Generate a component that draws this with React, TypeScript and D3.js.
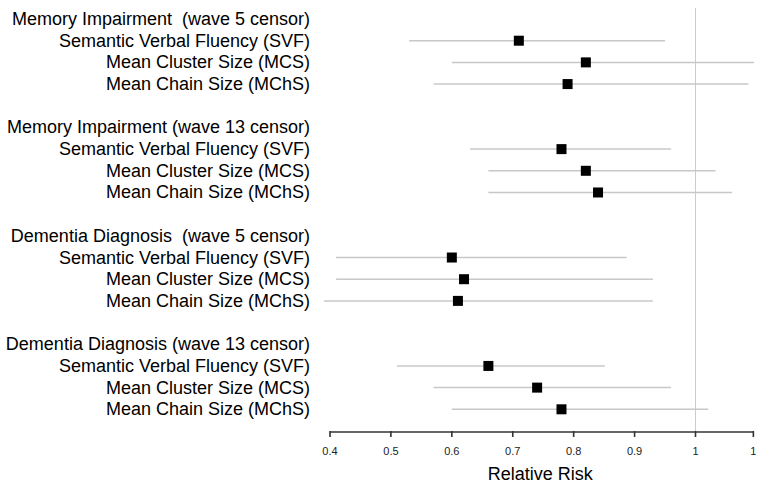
import React from "react";
import * as d3 from "d3";

const groups = [
  "Memory Impairment  (wave 5 censor)",
  "Memory Impairment (wave 13 censor)",
  "Dementia Diagnosis  (wave 5 censor)",
  "Dementia Diagnosis (wave 13 censor)",
];
const measures = [
  "Semantic Verbal Fluency (SVF)",
  "Mean Cluster Size (MCS)",
  "Mean Chain Size (MChS)",
];
// per group, per measure
const estimates = [
  [0.71, 0.82, 0.79],
  [0.78, 0.82, 0.84],
  [0.60, 0.62, 0.61],
  [0.66, 0.74, 0.78],
];
const lower = [
  [0.53, 0.60, 0.57],
  [0.63, 0.66, 0.66],
  [0.41, 0.41, 0.39],
  [0.51, 0.57, 0.60],
];
const upper = [
  [0.95, 1.096, 1.087],
  [0.96, 1.033, 1.06],
  [0.887, 0.93, 0.93],
  [0.851, 0.96, 1.021],
];
const tickValues = [0.4, 0.5, 0.6, 0.7, 0.8, 0.9, 1.0, 1.095];
const tickLabels = ["0.4", "0.5", "0.6", "0.7", "0.8", "0.9", "1", "1"];

const W = 762;
const H = 489;
const FONT = "'Liberation Sans', Arial, sans-serif";

export default function App() {
  const x = d3.scaleLinear().domain([0.4, 1.0]).range([330, 695.5]);
  const y = d3.scaleLinear().domain([1, 18]).range([40.7, 409.3]);
  const axisY = 432;
  const labelX = 310;

  const rows: JSX.Element[] = [];
  groups.forEach((g, gi) => {
    const base = gi * 5;
    rows.push(
      <text
        key={"h" + gi}
        x={labelX}
        y={y(base)}
        textAnchor="end"
        dominantBaseline="central"
        fontSize={18}
        style={{ whiteSpace: "pre" }}
      >
        {g}
      </text>
    );
    measures.forEach((m, mi) => {
      const yy = y(base + 1 + mi);
      rows.push(
        <g key={`r${gi}-${mi}`}>
          <text
            x={labelX}
            y={yy}
            textAnchor="end"
            dominantBaseline="central"
            fontSize={18}
          >
            {m}
          </text>
          <line
            x1={x(lower[gi][mi])}
            x2={x(upper[gi][mi])}
            y1={yy}
            y2={yy}
            stroke="#c8c8c8"
            strokeWidth={1.5}
          />
          <rect
            x={x(estimates[gi][mi]) - 5}
            y={yy - 5}
            width={10}
            height={10}
            fill="#000"
          />
        </g>
      );
    });
  });

  return (
    <svg
      width={W}
      height={H}
      style={{ position: "absolute", left: 0, top: 0, background: "#fff" }}
      fontFamily={FONT}
    >
      <rect x={0} y={0} width={W} height={H} fill="#fff" />
      <line x1={x(1)} x2={x(1)} y1={8} y2={axisY} stroke="#cccccc" strokeWidth={1} />
      {rows}
      <line
        x1={x(0.4)}
        x2={x(tickValues[tickValues.length - 1]) + 0.5}
        y1={axisY}
        y2={axisY}
        stroke="#333"
        strokeWidth={1.6}
      />
      {tickValues.map((t, i) => (
        <g key={"t" + i}>
          <line x1={x(t)} x2={x(t)} y1={axisY - 1} y2={axisY + 5} stroke="#333" strokeWidth={1.6} />
          <text
            x={x(t)}
            y={451}
            textAnchor="middle"
            dominantBaseline="central"
            fontSize={11}
            fill="#222"
          >
            {tickLabels[i]}
          </text>
        </g>
      ))}
      <text
        x={x(0.75) - 3}
        y={474}
        textAnchor="middle"
        dominantBaseline="central"
        fontSize={18}
      >
        Relative Risk
      </text>
    </svg>
  );
}
